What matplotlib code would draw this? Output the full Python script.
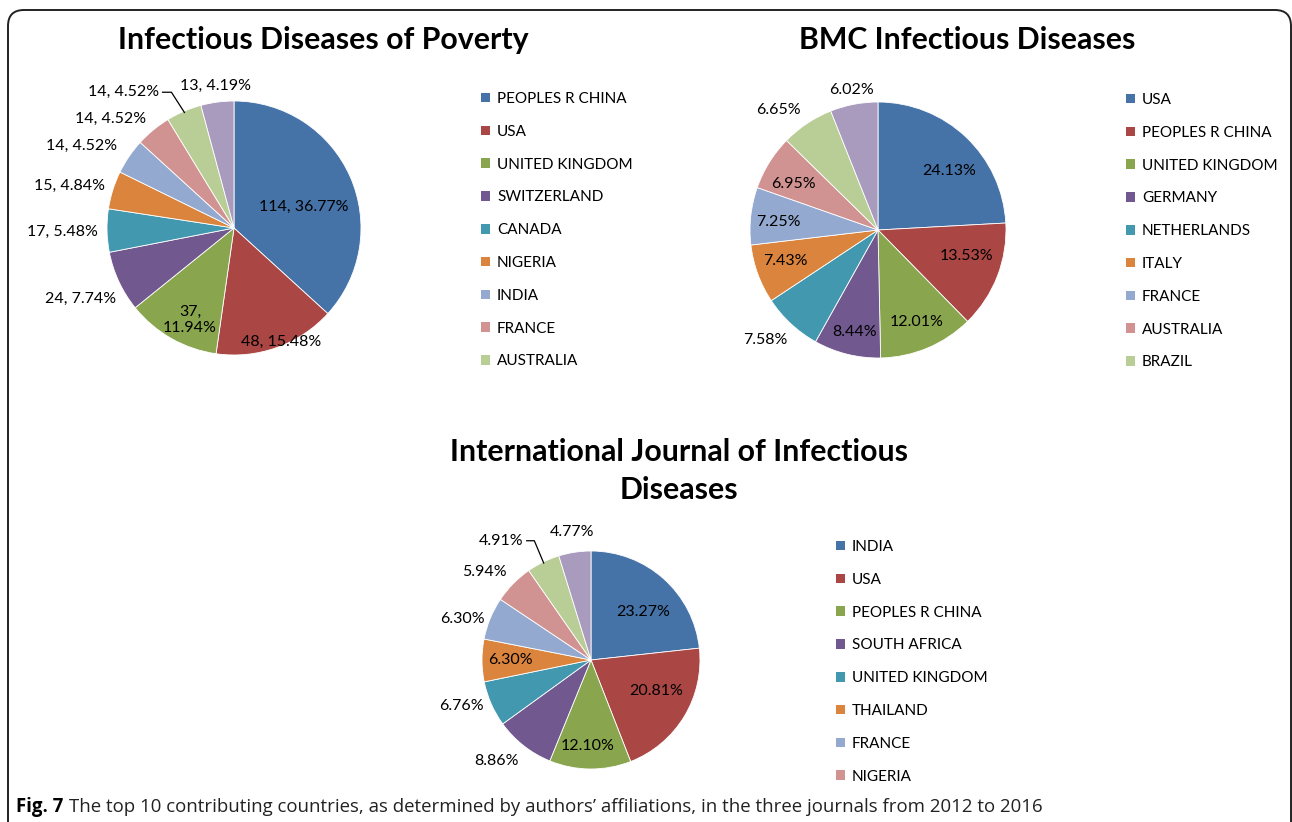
import numpy as np
import matplotlib.pyplot as plt
from matplotlib.patches import FancyBboxPatch, Patch
from matplotlib.transforms import IdentityTransform

plt.rcParams["font.family"] = ["Lato", "DejaVu Sans"]

W, H = 1292, 822

# --- data -------------------------------------------------------------
poverty_countries = ["PEOPLES R CHINA", "USA", "UNITED KINGDOM", "SWITZERLAND", "CANADA",
                     "NIGERIA", "INDIA", "FRANCE", "AUSTRALIA"]
poverty_counts = [114, 48, 37, 24, 17, 15, 14, 14, 14, 13]
poverty_pcts = [36.77, 15.48, 11.94, 7.74, 5.48, 4.84, 4.52, 4.52, 4.52, 4.19]

bmc_countries = ["USA", "PEOPLES R CHINA", "UNITED KINGDOM", "GERMANY", "NETHERLANDS",
                 "ITALY", "FRANCE", "AUSTRALIA", "BRAZIL"]
bmc_pcts = [24.13, 13.53, 12.01, 8.44, 7.58, 7.43, 7.25, 6.95, 6.65, 6.02]

ijid_countries = ["INDIA", "USA", "PEOPLES R CHINA", "SOUTH AFRICA", "UNITED KINGDOM",
                  "THAILAND", "FRANCE", "NIGERIA"]
ijid_pcts = [23.27, 20.81, 12.10, 8.86, 6.76, 6.30, 6.30, 5.94, 4.91, 4.77]

colors = ["#4572A7", "#AA4643", "#89A54E", "#71588F", "#4198AF",
          "#DB843D", "#93A9CF", "#D19392", "#B9CD96", "#A99BBD"]

TITLE_SIZE = 21.8
LABEL_SIZE = 11.5
LEGEND_SIZE = 11

fig = plt.figure(figsize=(W / 100, H / 100), dpi=100)


def draw_pie(cx, cy, r, values, labels, dists, shifts, leader=None):
    k = 1.7
    ax = fig.add_axes([(cx - k * r) / W, (H - cy - k * r) / H, 2 * k * r / W, 2 * k * r / H])
    ax.patch.set_alpha(0)
    wedges, _ = ax.pie(values, colors=colors, startangle=90, counterclock=False,
                       wedgeprops=dict(edgecolor="white", linewidth=0.6))
    ax.set_xlim(-k, k)
    ax.set_ylim(-k, k)
    ax.axis("off")
    texts = []
    for w, lab, d, s in zip(wedges, labels, dists, shifts):
        mid = np.deg2rad((w.theta1 + w.theta2) / 2 + s)
        t = ax.text(d * np.cos(mid), d * np.sin(mid), lab, ha="center", va="center",
                    fontsize=LABEL_SIZE, color="black", multialignment="center")
        texts.append(t)
    if leader is not None:
        fig.canvas.draw()
        renderer = fig.canvas.get_renderer()
        bb = texts[leader].get_window_extent(renderer).transformed(ax.transData.inverted())
        w = wedges[leader]
        a = np.deg2rad((w.theta1 + w.theta2) / 2)
        y0 = (bb.y0 + bb.y1) / 2
        x0 = bb.x1 + 0.03
        ax.plot([x0, x0 + 0.07, 0.99 * np.cos(a)], [y0, y0, 0.99 * np.sin(a)],
                color="black", lw=0.9)
    return ax


def add_legend(ax, names, x, y):
    handles = [Patch(facecolor=c, edgecolor="none") for c in colors[:len(names)]]
    ax.legend(handles, names, loc="upper left", bbox_to_anchor=(x / W, 1 - y / H),
              bbox_transform=fig.transFigure, frameon=False, fontsize=LEGEND_SIZE,
              handlelength=0.6, handleheight=0.6, handletextpad=0.45,
              labelspacing=1.23, borderpad=0, borderaxespad=0)


# --- Infectious Diseases of Poverty -------------------------------------
pov_labels = [f"{c}, {p:.2f}%" for c, p in zip(poverty_counts, poverty_pcts)]
pov_labels[2] = pov_labels[2].replace(", ", ",\n")
ax1 = draw_pie(234, 228, 127, poverty_counts, pov_labels,
               [0.57, 0.97, 0.80, 1.33, 1.35, 1.34, 1.36, 1.30, 1.38, 1.13],
               [-7, 3, 4, 0, 0, 3, 6, 9, 16, 0], leader=8)
add_legend(ax1, poverty_countries, 481, 92)
fig.text(323 / W, 1 - 40 / H, "Infectious Diseases of Poverty", ha="center", va="center",
         fontsize=TITLE_SIZE, fontweight="bold")

# --- BMC Infectious Diseases ---------------------------------------------
bmc_labels = [f"{p:.2f}%" for p in bmc_pcts]
ax2 = draw_pie(878, 230, 128, bmc_pcts, bmc_labels,
               [0.72, 0.72, 0.78, 0.82, 1.23, 0.76, 0.78, 0.75, 1.22, 1.11],
               [-7, 5, 0, 1, -3, -1.5, 2, 3, 6, 0])
add_legend(ax2, bmc_countries, 1126, 93)
fig.text(967 / W, 1 - 40 / H, "BMC Infectious Diseases", ha="center", va="center",
         fontsize=TITLE_SIZE, fontweight="bold")

# --- International Journal of Infectious Diseases ------------------------
ijid_labels = [f"{p:.2f}%" for p in ijid_pcts]
ax3 = draw_pie(591, 660, 109, ijid_pcts, ijid_labels,
               [0.65, 0.66, 0.79, 1.27, 1.26, 0.74, 1.24, 1.27, 1.37, 1.19],
               [-5, 6, -1.5, -5, -4, 0, 5, 5, 11, 0], leader=8)
add_legend(ax3, ijid_countries, 836, 540)
fig.text(679 / W, 1 - 452 / H, "International Journal of Infectious", ha="center", va="center",
         fontsize=TITLE_SIZE, fontweight="bold")
fig.text(679 / W, 1 - 490 / H, "Diseases", ha="center", va="center",
         fontsize=TITLE_SIZE, fontweight="bold")

# --- frame and caption ---------------------------------------------------
frame = FancyBboxPatch((8, -40), 1283, H - 10 + 40, boxstyle="round,pad=0,rounding_size=16",
                       transform=IdentityTransform(), facecolor="none", edgecolor="#222222",
                       lw=1.4, clip_on=False)
fig.patches.append(frame)

cap_font = ["Open Sans", "DejaVu Sans"]
cap_size = 13.4
fig.canvas.draw()
t0 = fig.text(16 / W, 1 - 807 / H, "Fig. 7", ha="left", va="center", fontsize=cap_size,
              fontweight="bold", family=cap_font)
fig.canvas.draw()
bb = t0.get_window_extent(fig.canvas.get_renderer())
fig.text((bb.x1 + 6) / W, 1 - 807 / H,
         "The top 10 contributing countries, as determined by authors\u2019 affiliations, "
         "in the three journals from 2012 to 2016",
         ha="left", va="center", fontsize=cap_size, family=cap_font, color="#222222")

plt.savefig("out.png", dpi=100)
